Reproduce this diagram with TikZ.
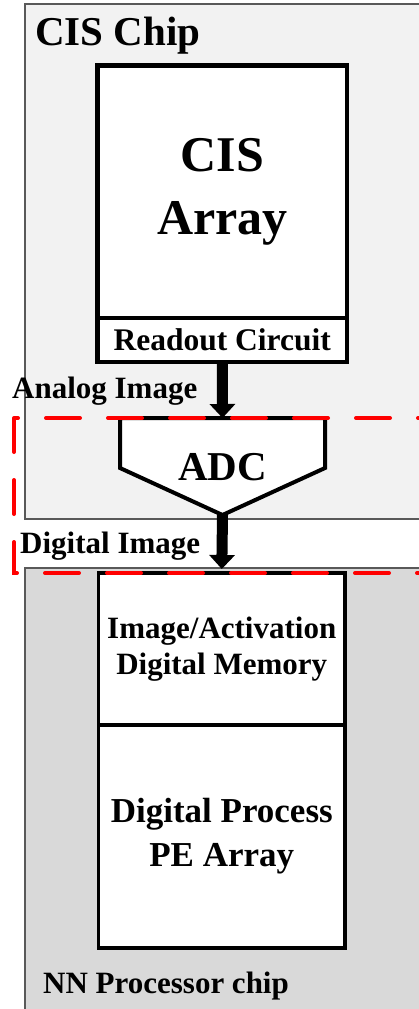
\documentclass[tikz,border=0pt]{standalone}
\usepackage{fontspec}
\setmainfont{Liberation Serif}
\usepackage{tikz}
\usepackage{xcolor}
\usetikzlibrary{arrows.meta}
\usetikzlibrary{positioning}

\definecolor{cischip}{HTML}{F2F2F2}
\definecolor{nnchip}{HTML}{D9D9D9}
\definecolor{chipedge}{HTML}{595959}
\tikzset{
  chipbox/.style={draw=chipedge, line width=1.5pt},
  blockbox/.style={draw=black, fill=white, line width=4.5pt, outer sep=0pt, inner sep=0pt, align=center},
  dataarrow/.style={line width=11pt, -{Triangle[length=14pt,width=25pt]}},
  busbox/.style={draw=red, line width=4pt, line cap=round, dash pattern=on 34pt off 28pt},
  tag/.style={inner sep=0pt, anchor=base west}
}

\begin{document}
\begin{tikzpicture}[x=1pt, y=-1pt]
        \useasboundingbox (0,0) rectangle (419,1009);
        \clip (0,0) rectangle (419,1009);
        % chips
        \draw[chipbox, fill=cischip] (25,4) rectangle (440,519);
        \draw[chipbox, fill=nnchip] (25,568) rectangle (440,1030);
        % sensor side
        \node[blockbox, minimum width=249.5pt, minimum height=252.5pt, font=\bfseries\fontsize{50}{63}\selectfont] (array) at (222.25,191.75) {CIS\\Array};
        \node[blockbox, minimum width=249.5pt, minimum height=44pt, font=\bfseries\fontsize{31.5}{36}\selectfont, below=0pt of array] (readout) {Readout Circuit};
        \coordinate (adcin) at (222.5,418);
        \coordinate (adcout) at (222.5,515);
        \draw[line width=4pt, fill=white, line join=miter] (120,418) -- (325,418) -- (325,468) -- (adcout) -- (120,468) -- cycle;
        \node[inner sep=0pt, anchor=base, font=\bfseries\fontsize{41}{49}\selectfont] (adc) at (222.5,480) {ADC};
        % processor side
        \node[blockbox, line width=3.5pt, minimum width=246.5pt, minimum height=152pt, font=\bfseries\fontsize{31}{36}\selectfont] (memory) at (221.75,649) {Image/Activation\\Digital Memory};
        \node[blockbox, line width=3.5pt, minimum width=246.5pt, minimum height=223pt, font=\bfseries\fontsize{35}{44}\selectfont, below=0pt of memory] (pe) {Digital Process\\PE Array};
        \draw[dataarrow] (readout.south) -- (adcin);
        \draw[dataarrow, shorten >=4pt] (adcout) -- (memory.north);
        \draw[busbox] (14,418) rectangle (450,573);
        % labels
        \node[tag, font=\bfseries\fontsize{41}{49}\selectfont] (ciscap) at (35,45) {CIS Chip};
        \node[tag, font=\bfseries\fontsize{31}{36}\selectfont] (analog) at (12,398) {Analog Image};
        \node[tag, font=\bfseries\fontsize{31}{36}\selectfont] (digital) at (20,553) {Digital Image};
        \node[tag, font=\bfseries\fontsize{31}{36}\selectfont] (nncap) at (43,993) {NN Processor chip};
\end{tikzpicture}
\end{document}
